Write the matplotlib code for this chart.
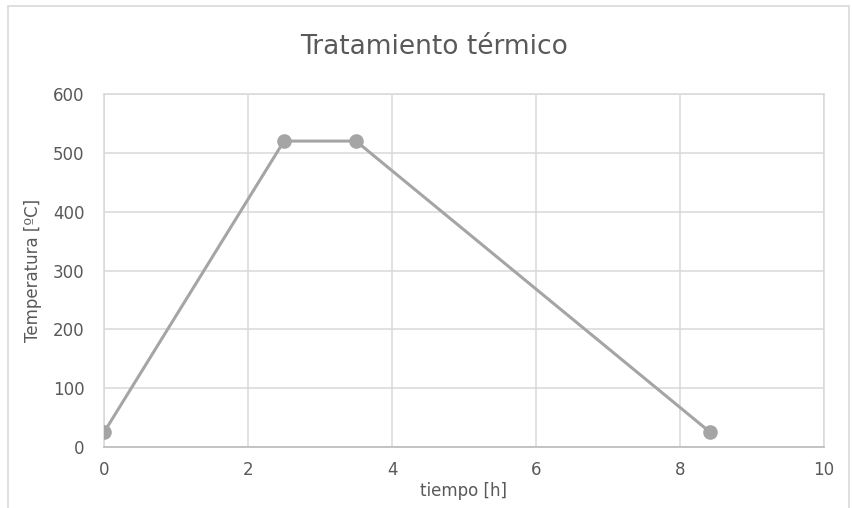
import matplotlib.pyplot as plt
from matplotlib.patches import Rectangle

# Heat treatment curve
tiempo = [0, 2.5, 3.5, 8.42]
temperatura = [25, 520, 520, 25]

x_ticks = [0, 2, 4, 6, 8, 10]
y_ticks = [0, 100, 200, 300, 400, 500, 600]

text_color = "#595959"
grid_color = "#d9d9d9"
line_color = "#a5a5a5"

plt.rcParams["font.family"] = ["DejaVu Sans"]

fig = plt.figure(figsize=(8.52, 5.08), dpi=100)
fig.patches.append(
    Rectangle((8 / 852, -0.05), 841 / 852, 1.05 - 6 / 508, transform=fig.transFigure,
              fill=False, edgecolor=grid_color, linewidth=1.2)
)

ax = fig.add_axes([104 / 852, 61 / 508, 720 / 852, 353 / 508])
ax.plot(tiempo, temperatura, color=line_color, linewidth=2.2, marker="o",
        markersize=9.5, markerfacecolor=line_color, markeredgecolor=line_color, zorder=3)

ax.set_xlim(0, 10)
ax.set_ylim(0, 600)
ax.set_xticks(x_ticks)
ax.set_yticks(y_ticks)
ax.grid(True, color=grid_color, linewidth=1.1)
ax.set_axisbelow(True)
for side in ["top", "right", "left"]:
    ax.spines[side].set_color(grid_color)
    ax.spines[side].set_linewidth(1.1)
ax.spines["bottom"].set_color("#bfbfbf")
ax.spines["bottom"].set_linewidth(1.3)
ax.tick_params(length=0, labelsize=12, colors=text_color, pad=10)
ax.tick_params(axis="y", pad=14)

ax.set_xlabel("tiempo [h]", fontsize=12, color=text_color, labelpad=2)
ax.set_ylabel("Temperatura [ºC]", fontsize=12, color=text_color, labelpad=8)

fig.text(434 / 852, 1 - 47 / 508, "Tratamiento térmico", ha="center", va="center",
         fontsize=19, color=text_color)

fig.savefig("out.png", dpi=100)
